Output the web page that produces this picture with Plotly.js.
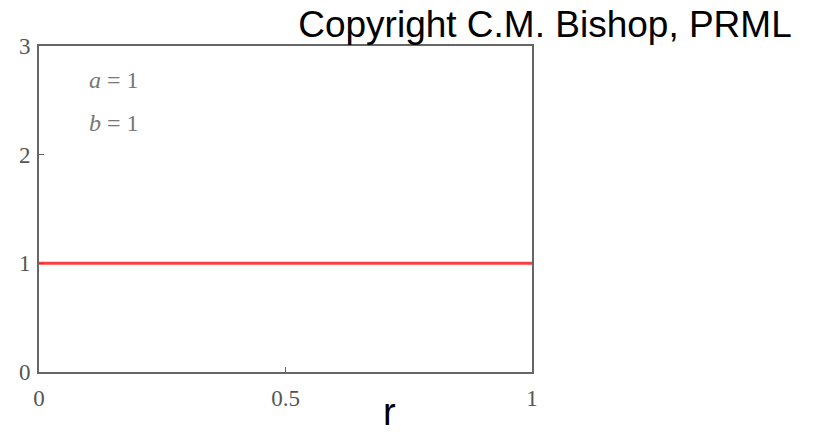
<!DOCTYPE html>
<html>
<head>
<meta charset="utf-8">
<script src="https://cdn.plot.ly/plotly-3.0.1.min.js"></script>
<style>html,body{margin:0;padding:0;background:#fff;}#chart{width:813px;height:432px;}</style>
</head>
<body>
<div id="chart"></div>
<script>
// Beta(r | a=1, b=1) density: constant 1 on [0, 1]
var rValues = [0, 0.5, 1];
var densityValues = [1, 1, 1];
var xTickValues = [0, 0.5, 1];
var xTickLabels = ['0', '0.5', '1'];
var yTickValues = [0, 1, 2, 3];
var yTickLabels = ['0', '1', '2', '3'];
var paramLabels = ['<i>a</i> = 1', '<i>b</i> = 1'];

var trace = {
  x: rValues,
  y: densityValues,
  type: 'scatter',
  mode: 'lines',
  line: {color: '#ff3c3c', width: 3},
  hoverinfo: 'skip',
  showlegend: false
};

var tickFont = {family: 'Liberation Serif, Times New Roman, serif', size: 23, color: '#555555'};

var layout = {
  width: 813,
  height: 432,
  margin: {l: 39, r: 281, t: 46, b: 60},
  paper_bgcolor: '#ffffff',
  plot_bgcolor: '#ffffff',
  showlegend: false,
  title: {
    text: 'Copyright C.M. Bishop, PRML',
    font: {family: 'Liberation Sans, Arial, Helvetica, sans-serif', size: 37, color: '#000000'},
    x: 545 / 813,
    xanchor: 'center',
    xref: 'container',
    yref: 'container',
    y: 1 - 24 / 432,
    yanchor: 'middle',
    pad: {t: 0, b: 0, l: 0, r: 0}
  },
  xaxis: {
    range: [0, 1],
    tickvals: xTickValues,
    ticktext: xTickLabels,
    ticks: 'inside',
    ticklen: 5,
    tickcolor: '#666666',
    tickwidth: 1,
    ticklabelstandoff: 4,
    showline: true,
    linecolor: '#666666',
    linewidth: 2,
    mirror: true,
    showgrid: false,
    zeroline: false,
    tickfont: tickFont,
    fixedrange: true
  },
  yaxis: {
    range: [0, 3],
    tickvals: yTickValues,
    ticktext: yTickLabels,
    ticks: 'inside',
    ticklen: 5,
    tickcolor: '#666666',
    tickwidth: 1,
    ticklabelstandoff: 2,
    showline: true,
    linecolor: '#666666',
    linewidth: 2,
    mirror: true,
    showgrid: false,
    zeroline: false,
    tickfont: tickFont,
    fixedrange: true
  },
  annotations: [
    {
      text: paramLabels[0],
      x: 0.152, y: 2.69, xref: 'x', yref: 'y',
      showarrow: false,
      font: {family: 'Liberation Serif, Times New Roman, serif', size: 24, color: '#777777'}
    },
    {
      text: paramLabels[1],
      x: 0.153, y: 2.29, xref: 'x', yref: 'y',
      showarrow: false,
      font: {family: 'Liberation Serif, Times New Roman, serif', size: 24, color: '#777777'}
    },
    {
      text: 'r',
      x: (397 - 39) / 493, xref: 'paper',
      y: -(412 - 372) / (372 - 46), yref: 'paper', yanchor: 'middle',
      showarrow: false,
      borderpad: 0,
      font: {family: 'Liberation Sans, Arial, Helvetica, sans-serif', size: 38, color: '#000000'}
    }
  ]
};

Plotly.newPlot('chart', [trace], layout, {staticPlot: true, displayModeBar: false});
</script>
</body>
</html>
